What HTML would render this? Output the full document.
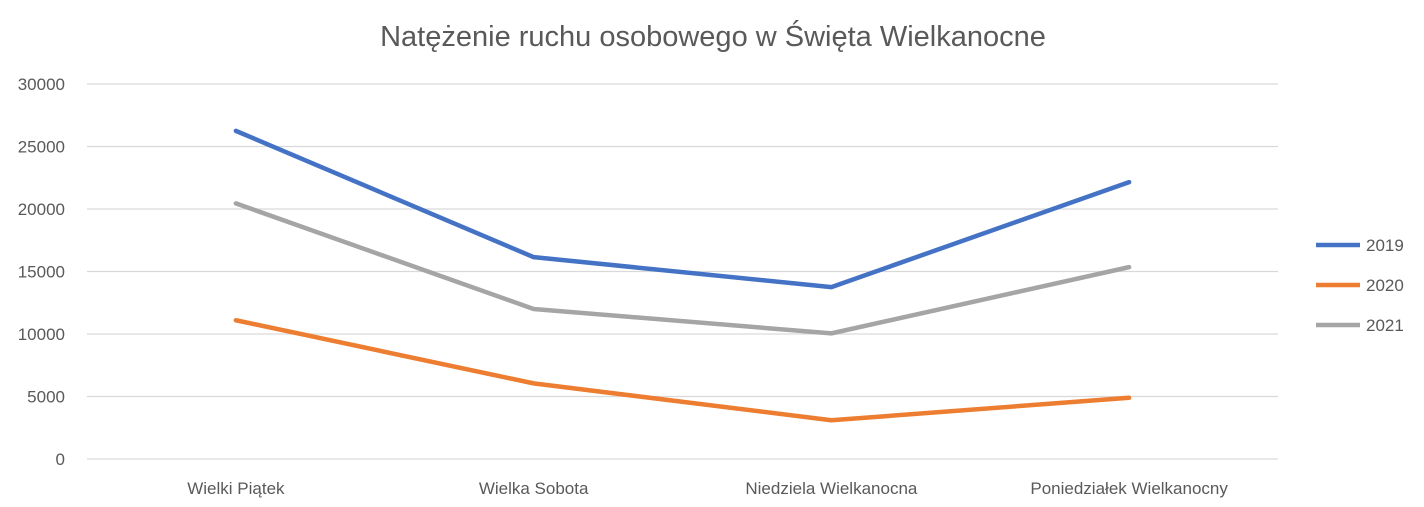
<!DOCTYPE html>
<html><head><meta charset="utf-8"><style>
body{margin:0;background:#fff;}
svg{display:block;font-family:"Liberation Sans",sans-serif;}
</style></head><body>
<svg id="chart" width="1424" height="507">
<text x="713" y="46" text-anchor="middle" font-size="29" fill="#595959">Natężenie ruchu osobowego w Święta Wielkanocne</text>
<g id="grid"></g><g id="ylabels"></g><g id="xlabels"></g><g id="series"></g><g id="legend"></g>
</svg>
<script>
const categories=["Wielki Piątek","Wielka Sobota","Niedziela Wielkanocna","Poniedziałek Wielkanocny"];
const s2019=[26250,16150,13750,22150];
const s2020=[11100,6050,3100,4900];
const s2021=[20450,12000,10050,15350];
const yTicks=[0,5000,10000,15000,20000,25000,30000];
const seriesNames=["2019","2020","2021"];
const colors=["#4472C4","#ED7D31","#A5A5A5"];
const NS="http://www.w3.org/2000/svg";
const x0=87,x1=1278,y0=459,yTop=84,yMax=30000;
const y=v=>y0-(v/yMax)*(y0-yTop);
const step=(x1-x0)/categories.length;
const x=i=>x0+step*(i+0.5);
function mk(t,a,p){const e=document.createElementNS(NS,t);for(const k in a)e.setAttribute(k,a[k]);p.appendChild(e);return e;}
const grid=document.getElementById('grid'),yl=document.getElementById('ylabels'),xl=document.getElementById('xlabels'),sg=document.getElementById('series'),lg=document.getElementById('legend');
yTicks.forEach(t=>{
 const l=mk('line',{x1:x0,x2:x1,y1:y(t),y2:y(t),stroke:'#D9D9D9','stroke-width':1.3},grid);
 
 
 const tx=mk('text',{x:65,y:y(t)+6,'text-anchor':'end','font-size':17,fill:'#595959'},yl);
 tx.textContent=t;
 
 
});
categories.forEach((c,i)=>{
 const tx=mk('text',{x:x(i),y:494,'text-anchor':'middle','font-size':17,fill:'#595959'},xl);
 tx.textContent=c;
 
 
});
[s2019,s2020,s2021].forEach((d,si)=>{
 const p=mk('polyline',{points:d.map((v,i)=>x(i)+','+y(v)).join(' '),fill:'none',stroke:colors[si],'stroke-width':4.5,'stroke-linejoin':'round','stroke-linecap':'round'},sg);
 
 
 const ly=245+si*40;
 const ll=mk('line',{x1:1316,x2:1360,y1:ly,y2:ly,stroke:colors[si],'stroke-width':4.5},lg);
 
 
 const lt=mk('text',{x:1366,y:ly+6,'font-size':17,fill:'#595959'},lg);
 lt.textContent=seriesNames[si];
 
 
});
</script>
</body></html>
